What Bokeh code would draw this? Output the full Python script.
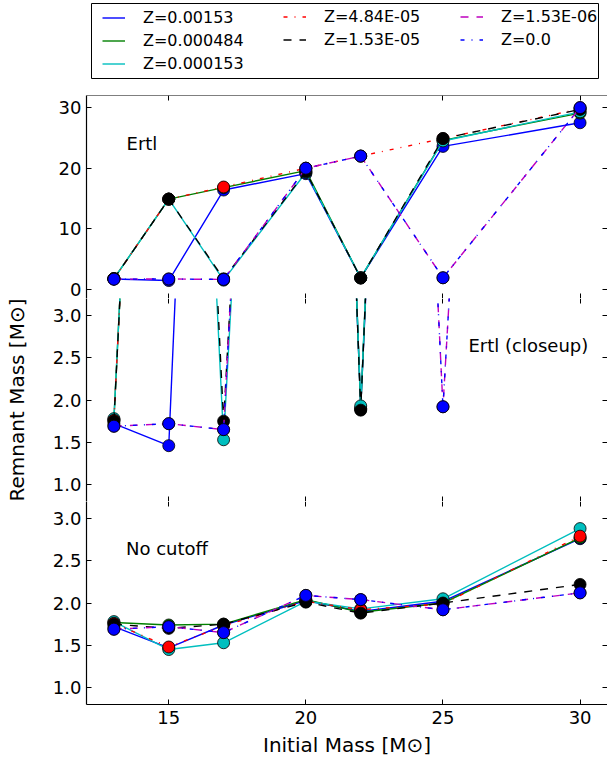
from bokeh.plotting import figure
from bokeh.layouts import column
from bokeh.models import (Range1d, LinearAxis, FixedTicker, NumeralTickFormatter,
                          Label, Legend, LegendItem, BoxAnnotation)
from bokeh.embed import file_html
from bokeh.resources import INLINE

# Initial masses of the models [Msun]
masses = [13, 15, 17, 20, 22, 25, 30]

series_labels = ["Z=0.00153", "Z=0.000484", "Z=0.000153",
                 "Z=4.84E-05", "Z=1.53E-05", "Z=1.53E-06", "Z=0.0"]

# Remnant masses with the Ertl explodability criterion
ertl_z00153 = [1.72, 1.46, 16.4, 19.1, 1.90, 23.6, 27.5]
ertl_z000484 = [1.77, 14.9, 16.8, 19.6, 1.89, 24.6, 29.1]
ertl_z000153 = [1.78, 14.9, 1.53, 19.3, 1.93, 24.5, 29.3]
ertl_z484e5 = [1.76, 14.9, 16.9, 20.0, 22.0, 24.9, 29.8]
ertl_z153e5 = [1.75, 14.9, 1.75, 19.4, 1.88, 24.9, 29.7]
ertl_z153e6 = [1.69, 1.72, 1.65, 20.0, 22.0, 1.92, 30.0]
ertl_z0 = [1.69, 1.72, 1.65, 20.0, 22.0, 1.92, 30.0]

# Remnant masses without any cutoff
nocut_z00153 = [1.72, 1.47, 1.74, 2.03, 1.90, 2.02, 2.76]
nocut_z000484 = [1.77, 1.74, 1.75, 2.04, 1.89, 2.00, 2.77]
nocut_z000153 = [1.78, 1.45, 1.53, 2.02, 1.93, 2.05, 2.88]
nocut_z484e5 = [1.76, 1.48, 1.73, 2.02, 1.92, 1.99, 2.79]
nocut_z153e5 = [1.75, 1.70, 1.75, 2.01, 1.88, 2.00, 2.22]
nocut_z153e6 = [1.69, 1.72, 1.65, 2.09, 2.04, 1.92, 2.12]
nocut_z0 = [1.69, 1.72, 1.65, 2.09, 2.04, 1.92, 2.12]

ertl = [ertl_z00153, ertl_z000484, ertl_z000153, ertl_z484e5,
        ertl_z153e5, ertl_z153e6, ertl_z0]
nocut = [nocut_z00153, nocut_z000484, nocut_z000153, nocut_z484e5,
         nocut_z153e5, nocut_z153e6, nocut_z0]

x_ticks = [15, 20, 25, 30]
big_ticks = [0, 10, 20, 30]
small_ticks = [1.0, 1.5, 2.0, 2.5, 3.0]

colors = ["#0000ff", "#008000", "#00bfbf", "#ff0000", "#000000", "#bf00bf", "#0000ff"]
dashes = ["solid", "solid", "solid", "4 7 1 7", "8 8", "8 8", "4 7 1 7"]

FONT = "DejaVu Sans"
W = 607
x_range = Range1d(12, 31)


def hide_labels(ax):
    ax.major_label_text_font_size = "0px"
    ax.major_label_text_color = None
    ax.major_label_standoff = 0


def style_axis(ax, ticks):
    ax.ticker = FixedTicker(ticks=ticks)
    ax.major_tick_in = 5
    ax.major_tick_out = 0
    ax.minor_tick_line_color = None
    ax.axis_line_color = "black"
    ax.axis_line_width = 1.2
    ax.major_tick_line_color = "black"
    ax.major_label_text_font = FONT
    ax.major_label_text_font_size = "18px"
    ax.major_label_text_color = "black"


def make_panel(height, y_range, yticks, bottom_border, show_xlabels, top_spine):
    p = figure(width=W, height=height, x_range=x_range, y_range=y_range,
               output_backend="svg", toolbar_location=None,
               min_border_left=86, min_border_right=0,
               min_border_top=0, min_border_bottom=bottom_border,
               border_fill_color="white", background_fill_color="white")
    p.outline_line_color = None
    p.xgrid.visible = False
    p.ygrid.visible = False

    xb = p.below[0]
    yl = p.left[0]
    style_axis(xb, x_ticks)
    style_axis(yl, yticks)
    yl.major_label_standoff = 5
    if show_xlabels:
        xb.major_label_standoff = 6
    else:
        hide_labels(xb)
        xb.fixed_location = y_range.start

    # mirrored inward ticks along the top and right edges
    top = LinearAxis(fixed_location=y_range.end)
    style_axis(top, x_ticks)
    hide_labels(top)
    if not top_spine:
        top.axis_line_color = None
    right = LinearAxis(fixed_location=x_range.end)
    style_axis(right, yticks)
    hide_labels(right)
    right.axis_line_color = None
    p.add_layout(top, "above")
    p.add_layout(right, "right")
    return p, xb, yl


def draw_series(p, data):
    for vals, c, d in zip(data, colors, dashes):
        p.line(masses, vals, line_color=c, line_width=1.4, line_dash=d)
        p.scatter(masses, vals, size=12, fill_color=c, line_color="black",
                  line_width=0.8)


p_top, _, yl_top = make_panel(203, Range1d(-1.5, 32), big_ticks, 0, False, True)
p_mid, _, yl_mid = make_panel(203, Range1d(0.8, 3.2), small_ticks, 0, False, False)
p_bot, xb_bot, yl_bot = make_panel(266, Range1d(0.8, 3.2), small_ticks, 63, True, False)

for ax in (yl_mid, yl_bot):
    ax.formatter = NumeralTickFormatter(format="0.0")

draw_series(p_top, ertl)
draw_series(p_mid, ertl)
draw_series(p_bot, nocut)

# shared y title, carried by the middle panel
yl_mid.axis_label = "Remnant Mass [M\u2299]"
yl_mid.axis_label_text_font = FONT
yl_mid.axis_label_text_font_size = "20px"
yl_mid.axis_label_text_font_style = "normal"
yl_mid.axis_label_text_color = "black"
yl_mid.axis_label_standoff = 21

xb_bot.axis_label = "Initial Mass [M\u2299]"
xb_bot.axis_label_text_font = FONT
xb_bot.axis_label_text_font_size = "20px"
xb_bot.axis_label_text_font_style = "normal"
xb_bot.axis_label_text_color = "black"
xb_bot.axis_label_standoff = 6

for p, txt, x, y in ((p_top, "Ertl", 13.46, 24.1),
                     (p_mid, "Ertl (closeup)", 25.93, 2.645),
                     (p_bot, "No cutoff", 13.44, 2.645)):
    p.add_layout(Label(x=x, y=y, text=txt, text_font=FONT,
                       text_font_size="18px", text_color="black",
                       text_baseline="alphabetic"))

# Legend strip above the panels: three legend columns inside one box.
# The sample lines fall outside this strip's ranges; only their legend
# glyphs are shown.
p_leg = figure(width=W, height=95, x_range=Range1d(0, 1), y_range=Range1d(0, 1),
               output_backend="svg", toolbar_location=None,
               x_axis_type=None, y_axis_type=None,
               min_border_left=86, min_border_right=0,
               min_border_top=0, min_border_bottom=0)
p_leg.outline_line_color = None
p_leg.xgrid.visible = False
p_leg.ygrid.visible = False

p_leg.add_layout(BoxAnnotation(left=5, right=512, bottom=17, top=92,
                               left_units="screen", right_units="screen",
                               bottom_units="screen", top_units="screen",
                               fill_color=None, line_color="black",
                               line_width=1, line_alpha=1))

items = []
for lab, vals, c, d in zip(series_labels, ertl, colors, dashes):
    r = p_leg.line(masses, vals, line_color=c, line_width=1.4, line_dash=d)
    items.append(LegendItem(label=lab, renderers=[r]))

for group, loc in ((items[0:3], (16, 22)), (items[3:5], (197, 46)),
                   (items[5:7], (374, 46))):
    leg = Legend(items=group, location=loc, orientation="vertical",
                 glyph_width=23, glyph_height=19, label_standoff=18,
                 spacing=4, padding=0, margin=0,
                 border_line_color=None, background_fill_alpha=0,
                 label_text_font=FONT, label_text_font_size="16px",
                 label_text_color="black")
    p_leg.add_layout(leg)

layout = column(p_leg, p_top, p_mid, p_bot, spacing=0)

with open("out.html", "w") as f:
    f.write(file_html(layout, INLINE))
